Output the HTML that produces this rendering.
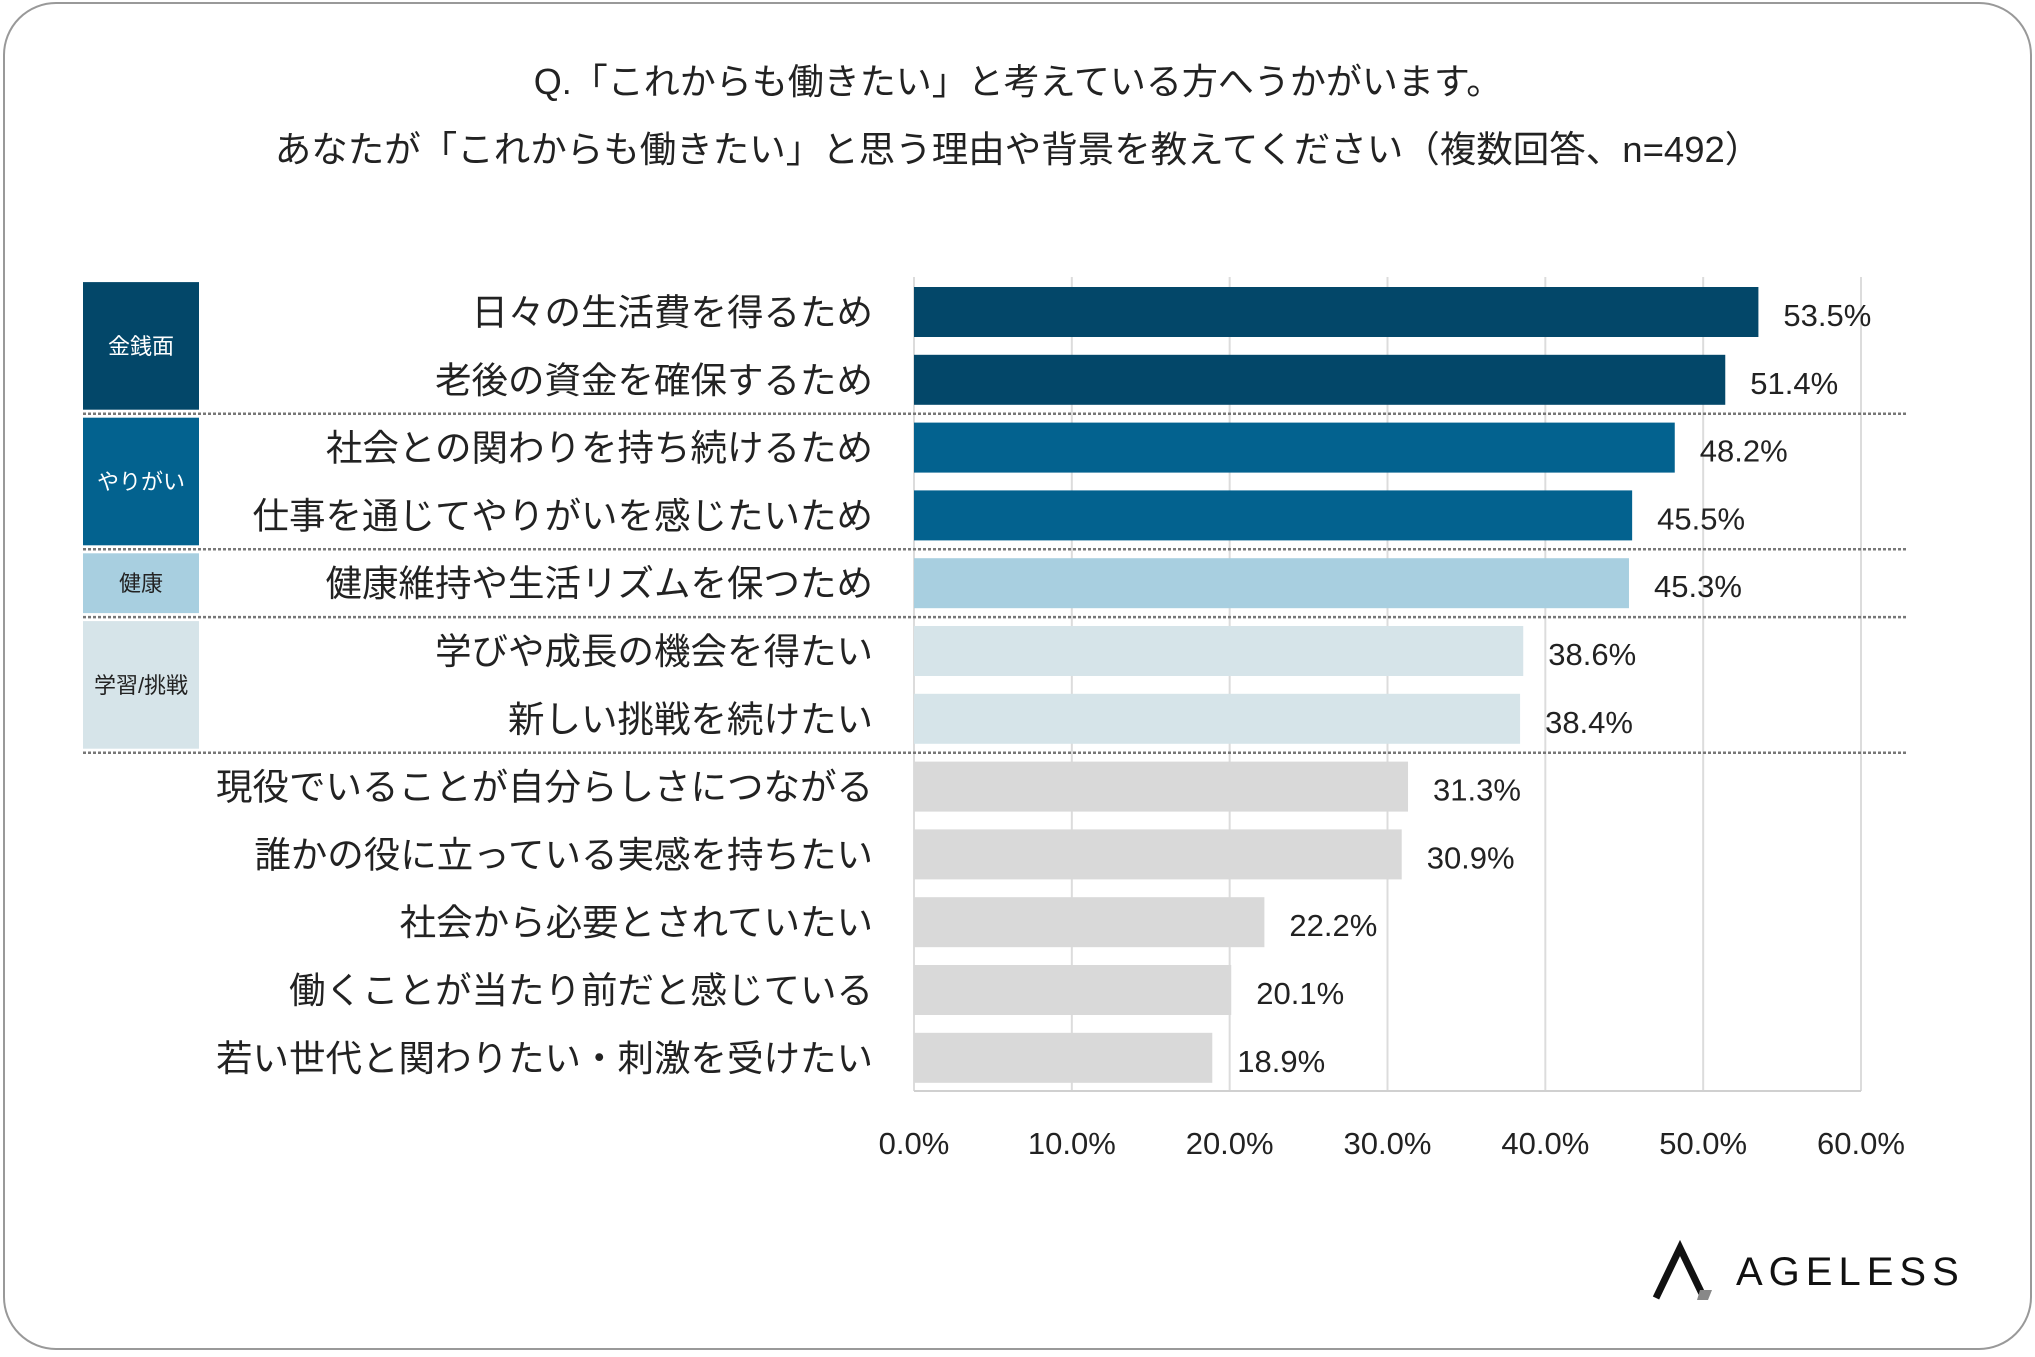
<!DOCTYPE html>
<html><head><meta charset="utf-8"><style>
body{margin:0;background:#fff;}
svg text{font-family:"Liberation Sans","Noto Sans CJK JP",sans-serif;}
</style></head><body>
<svg width="2035" height="1352" viewBox="0 0 2035 1352" xmlns="http://www.w3.org/2000/svg">
<rect x="4" y="3" width="2027" height="1346" rx="52" fill="#fff" stroke="#999" stroke-width="2"/>
<text x="1018" y="94" font-size="36" text-anchor="middle" fill="#222">Q.「これからも働きたい」と考えている方へうかがいます。</text>
<text x="1018" y="162" font-size="36.5" text-anchor="middle" fill="#222">あなたが「これからも働きたい」と思う理由や背景を教えてください（複数回答、n=492）</text>
<g id="grid"></g>
<g id="groups"></g>
<g id="bars"></g>
<g id="ticks"></g>
<g>
<path d="M1656 1298 L1680 1248 L1704 1298" fill="none" stroke="#111" stroke-width="7"/>
<path d="M1700 1290 L1712 1290 L1708 1300 L1697 1300 Z" fill="#888"/>
<text x="1736" y="1285" font-size="40" letter-spacing="6" fill="#111">AGELESS</text>
</g>
</svg>
<script>
const categories=["日々の生活費を得るため","老後の資金を確保するため","社会との関わりを持ち続けるため","仕事を通じてやりがいを感じたいため","健康維持や生活リズムを保つため","学びや成長の機会を得たい","新しい挑戦を続けたい","現役でいることが自分らしさにつながる","誰かの役に立っている実感を持ちたい","社会から必要とされていたい","働くことが当たり前だと感じている","若い世代と関わりたい・刺激を受けたい"];
const values=[53.5,51.4,48.2,45.5,45.3,38.6,38.4,31.3,30.9,22.2,20.1,18.9];
const barGroups=[0,0,1,1,2,3,3,4,4,4,4,4];
const groupColors=["#034769","#03628f","#a8cfe0","#d6e4e9","#d9d9d9"];
const groupNames=["金銭面","やりがい","健康","学習/挑戦"];
const groupTextColors=["#fff","#fff","#222","#222"];
const tickValues=[0,10,20,30,40,50,60];
const tickLabels=["0.0%","10.0%","20.0%","30.0%","40.0%","50.0%","60.0%"];

const NS="http://www.w3.org/2000/svg";
const x0=914, x1=1861, xMax=60, plotTop=277, plotBottom=1091, step=67.8, firstC=312, bh=50;
const xs=v=>x0+(v/xMax)*(x1-x0);
const yc=i=>firstC+i*step;
function mk(tag,attrs,parent){const e=document.createElementNS(NS,tag);for(const k in attrs)e.setAttribute(k,attrs[k]);parent.appendChild(e);return e;}
const grid=document.getElementById('grid'),bars=document.getElementById('bars'),ticks=document.getElementById('ticks'),groups=document.getElementById('groups');
tickValues.forEach((t,i)=>{
 const l=mk('line',{x1:xs(t),x2:xs(t),y1:plotTop,y2:plotBottom,stroke:'#dcdcdc','stroke-width':2},grid);
 
 
 const tx=mk('text',{x:xs(t),y:1154,'font-size':31,'text-anchor':'middle',fill:'#222'},ticks);
 tx.textContent=tickLabels[i];
 
 
});
const ax=mk('line',{x1:x0,x2:x1,y1:plotBottom,y2:plotBottom,stroke:'#d0d0d0','stroke-width':2},grid);


for(let g=0;g<groupNames.length;g++){
 const idx=barGroups.map((b,i)=>b===g?i:-1).filter(i=>i>=0);
 const a=idx[0],b=idx[idx.length-1];
 const yTop=yc(a)-step/2+4,yBot=yc(b)+step/2-4;
 const r=mk('rect',{x:83,y:yTop,width:116,height:yBot-yTop,fill:groupColors[g]},groups);
 
 
 const t=mk('text',{x:141,y:(yTop+yBot)/2+8,'font-size':22,'text-anchor':'middle',fill:groupTextColors[g]},groups);
 t.textContent=groupNames[g];
 
 
 const sy=yc(b)+step/2;
 const s=mk('line',{x1:83,x2:1906,y1:sy,y2:sy,stroke:'#777','stroke-width':2.5,'stroke-dasharray':'3 2'},groups);
 
 
}
categories.forEach((c,i)=>{
 const y=yc(i);
 const r=mk('rect',{x:x0,y:y-bh/2,width:xs(values[i])-x0,height:bh,fill:groupColors[barGroups[i]]},bars);
 
 
 const l=mk('text',{x:873,y:y+13,'font-size':36.5,'text-anchor':'end',fill:'#222'},bars);
 l.textContent=c;
 
 
 const v=mk('text',{x:xs(values[i])+25,y:y+14,'font-size':31,fill:'#222'},bars);
 v.textContent=values[i].toFixed(1)+'%';
 
 
});
</script>
</body></html>
